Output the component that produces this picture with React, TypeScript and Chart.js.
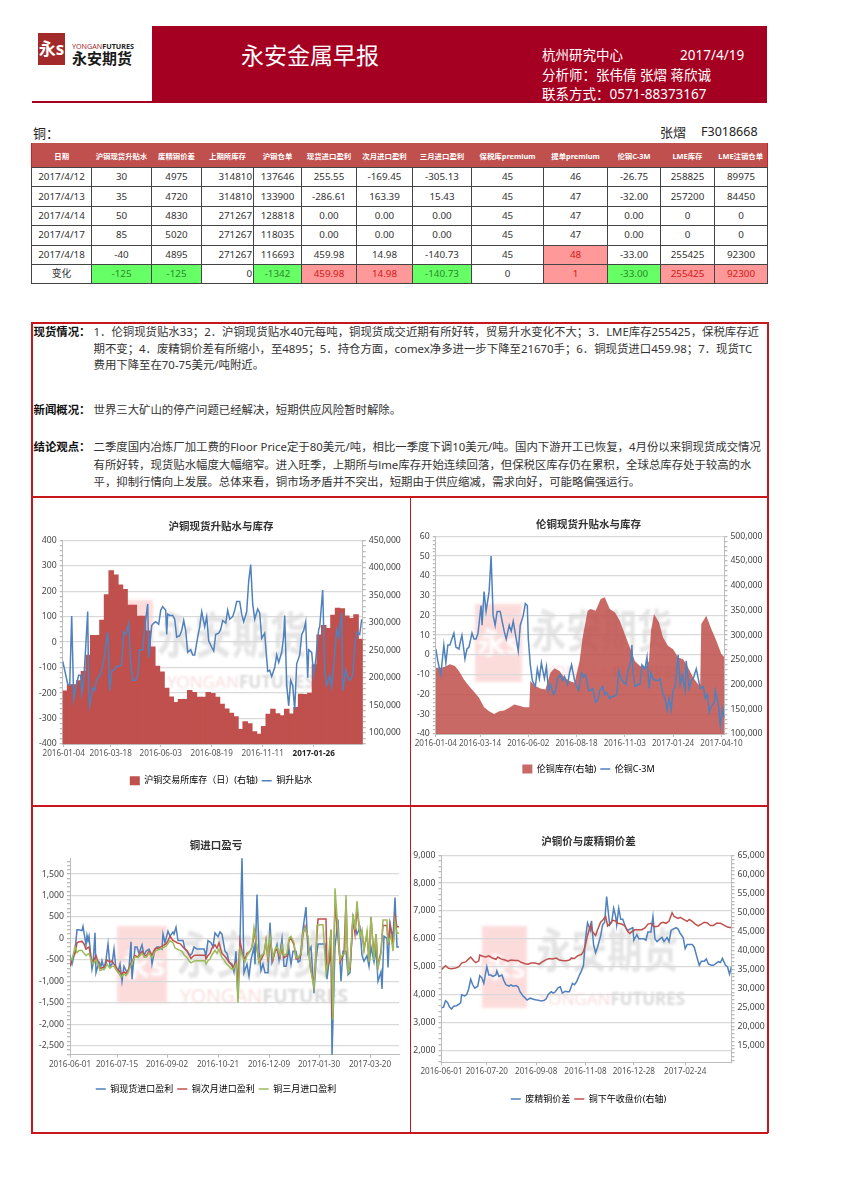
import React, { useEffect, useRef } from "react";
import { Chart, registerables } from "chart.js";
Chart.register(...registerables);

const FONT = '"Noto Sans","Noto Sans CJK SC",sans-serif';
const RED = "#C0504D", BLUE = "#4F81BD", GREEN = "#9BBB59";

// ---------- table ----------
const tableHeaders = ["日期","沪铜现货升贴水","废精铜价差","上期所库存","沪铜仓单","现货进口盈利","次月进口盈利","三月进口盈利","保税库premium","提单premium","伦铜C-3M","LME库存","LME注销仓单"];
const tableRows = [
  ["2017/4/12","30","4975","314810","137646","255.55","-169.45","-305.13","45","46","-26.75","258825","89975"],
  ["2017/4/13","35","4720","314810","133900","-286.61","163.39","15.43","45","47","-32.00","257200","84450"],
  ["2017/4/14","50","4830","271267","128818","0.00","0.00","0.00","45","47","0.00","0","0"],
  ["2017/4/17","85","5020","271267","118035","0.00","0.00","0.00","45","47","0.00","0","0"],
  ["2017/4/18","-40","4895","271267","116693","459.98","14.98","-140.73","45","48","-33.00","255425","92300"],
  ["变化","-125","-125","0","-1342","459.98","14.98","-140.73","0","1","-33.00","255425","92300"],
];
const changeTone = ["","g","g","","g","p","p","g","","p","g","p","p"];

// ---------- notes ----------
const spotLines = ["1．伦铜现货贴水33；2．沪铜现货贴水40元每吨，铜现货成交近期有所好转，贸易升水变化不大；3．LME库存255425，保税库存近","期不变；4．废精铜价差有所缩小，至4895；5．持仓方面，comex净多进一步下降至21670手；6．铜现货进口459.98；7．现货TC","费用下降至在70-75美元/吨附近。"];
const newsLines = ["世界三大矿山的停产问题已经解决，短期供应风险暂时解除。"];
const viewLines = ["二季度国内冶炼厂加工费的Floor Price定于80美元/吨，相比一季度下调10美元/吨。国内下游开工已恢复，4月份以来铜现货成交情况","有所好转，现货贴水幅度大幅缩窄。进入旺季，上期所与lme库存开始连续回落，但保税区库存仍在累积，全球总库存处于较高的水","平，抑制行情向上发展。总体来看，铜市场矛盾并不突出，短期由于供应缩减，需求向好，可能略偏强运行。"];

// ---------- chart 1 ----------
const shTickDays = [1,48,98,149,200,251];
const shTickLabels = ["2016-01-04","2016-03-18","2016-06-03","2016-08-19","2016-11-11","2017-01-26"];
const shStockWeekly = [177400,188400,188400,195700,212800,242000,278000,278000,305500,351800,395700,387800,369500,361600,333000,333000,312800,312800,286000,257300,222000,211600,182300,166500,156100,161600,161600,178000,174400,165900,165900,174400,172600,165900,153000,144500,136600,130500,107300,121300,117700,103000,98800,112800,134800,143900,136000,132300,143900,135400,147000,171300,171000,173000,225000,278700,296300,290900,314600,327400,326800,313400,309000,315900,271300];
const shBasis: [number, number][] = [[0,-75],[2,-110],[5,-165],[7,-170],[9,103],[11,-225],[14,-160],[16,-130],[18,-130],[19,-200],[21,-150],[23,-20],[25,120],[26,-200],[27,-250],[30,-180],[32,-190],[34,-145],[37,-130],[39,-110],[41,-70],[45,40],[47,-190],[49,-115],[52,-105],[54,-95],[56,-95],[59,-90],[61,40],[63,30],[66,75],[68,-80],[70,-150],[73,-150],[75,-130],[77,-30],[80,-30],[82,60],[85,150],[86,-60],[89,65],[91,75],[93,80],[96,70],[98,125],[100,140],[103,125],[104,30],[105,110],[107,105],[110,105],[112,90],[114,20],[117,25],[119,45],[121,85],[123,45],[125,-40],[128,-30],[130,-50],[132,-50],[135,20],[137,60],[139,120],[142,60],[144,100],[146,5],[149,-20],[151,-35],[153,30],[156,35],[158,50],[160,85],[163,75],[165,125],[167,90],[170,100],[172,125],[174,160],[177,160],[179,110],[181,80],[184,120],[186,240],[188,305],[190,150],[192,90],[195,130],[197,115],[199,15],[202,35],[205,-115],[207,-110],[209,-135],[212,-100],[214,-50],[216,-80],[219,-40],[221,25],[222,105],[224,-170],[226,-250],[228,-150],[230,-170],[232,-265],[234,-85],[237,-50],[239,30],[241,45],[243,80],[245,-140],[246,-30],[249,-40],[251,-130],[253,-70],[256,50],[257,60],[260,205],[262,-110],[264,-170],[267,-130],[269,-175],[271,-90],[274,50],[276,20],[279,115],[280,-190],[283,-110],[285,-135],[287,-150],[290,-130],[292,-20],[294,40],[297,30],[299,90]];

// ---------- chart 2 ----------
const lmeTickDays = [0,44,92,140,188,236,284];
const lmeTickLabels = ["2016-01-04","2016-03-14","2016-06-02","2016-08-18","2016-11-03","2017-01-24","2017-04-10"];
const lmeStock: [number, number][] = [[0,234200],[5,234200],[9,236300],[14,241000],[19,237600],[23,227500],[28,210500],[33,197000],[38,185400],[43,173200],[48,154200],[53,146100],[58,140700],[63,146100],[68,147500],[73,152900],[78,159700],[83,157000],[88,154200],[93,154200],[94,207100],[99,197000],[104,192200],[109,190200],[114,224100],[118,232900],[123,227500],[128,213900],[133,207100],[138,203700],[143,247800],[146,295300],[151,349500],[154,352900],[159,349500],[164,373200],[168,376600],[173,352900],[178,346100],[183,329200],[188,302000],[193,274900],[198,247800],[203,237600],[208,234200],[212,247800],[214,308800],[217,342700],[222,325800],[226,295300],[231,278300],[236,271500],[241,254600],[246,251200],[251,234200],[256,213900],[261,200300],[263,200300],[264,322400],[269,339300],[274,312200],[279,288500],[284,261400],[287,256000]];
const lmeSpread: [number, number][] = [[0,3],[2,-3],[4,-8],[5,-10],[8,5],[10,-4],[12,5],[14,5],[16,8],[18,11],[20,4],[23,3],[25,8],[26,10],[29,-2],[31,3],[33,4],[36,11],[38,8],[40,8],[42,11],[45,25],[46,15],[48,32],[50,22],[53,32],[55,50],[57,20],[59,15],[61,22],[64,22],[66,17],[68,12],[70,8],[73,15],[75,12],[77,17],[80,8],[82,2],[84,15],[87,20],[89,26],[91,25],[92,8],[94,-5],[96,-13],[99,-16],[101,-7],[103,-12],[105,-4],[108,-12],[110,-6],[112,-18],[114,-15],[117,-20],[119,-18],[121,-12],[124,-10],[126,-13],[128,-11],[131,-15],[133,-9],[135,-5],[138,-13],[140,-16],[142,-18],[145,-9],[147,-11],[149,-10],[152,-18],[154,-18],[156,-17],[159,-24],[161,-23],[163,-18],[166,-16],[168,-20],[170,-19],[173,-22],[175,-21],[177,-21],[180,-20],[182,-8],[184,-12],[187,-14],[189,-15],[191,-8],[194,-3],[195,5],[196,-8],[198,-16],[201,-15],[203,-15],[205,-5],[208,-7],[210,-1],[212,-17],[214,-9],[216,-12],[219,-13],[221,-13],[223,-12],[226,-20],[228,-22],[230,-28],[232,-22],[234,-28],[236,-18],[238,-16],[241,0],[243,-15],[245,-10],[248,-18],[249,-3],[252,-17],[254,-13],[256,-12],[259,-7],[261,-12],[263,-17],[266,-16],[268,-22],[270,-20],[272,-29],[274,-26],[277,-24],[278,-18],[281,-25],[283,-36],[285,-27],[287,-32]];

// ---------- chart 3 ----------
const impTickDays = [0,47,97,148,199,249,300];
const impTickLabels = ["2016-06-01","2016-07-15","2016-09-02","2016-10-21","2016-12-09","2017-01-30","2017-03-20"];
const impSpot: [number, number][] = [[0,-400],[2,-600],[5,-300],[7,200],[9,200],[12,180],[13,280],[16,-150],[17,70],[18,-50],[19,50],[22,-720],[23,-600],[25,130],[26,-800],[29,-550],[31,-650],[32,-520],[34,-700],[36,-500],[38,-130],[40,-650],[42,-600],[44,-250],[46,-720],[48,-780],[50,-600],[52,-1000],[54,-650],[57,-800],[59,-700],[61,-80],[62,-950],[65,-200],[67,-200],[69,-350],[72,-150],[74,-400],[76,-300],[79,-250],[81,-350],[82,-600],[85,-250],[87,-200],[89,-200],[92,-250],[93,100],[95,-100],[98,170],[100,50],[103,150],[104,100],[106,260],[108,-50],[111,-50],[113,-50],[115,-250],[117,-300],[120,-400],[122,-350],[124,-200],[127,-250],[129,-250],[131,-250],[134,-250],[136,-400],[138,-50],[141,-100],[143,-200],[145,130],[148,40],[150,150],[152,100],[155,-300],[157,-350],[159,-550],[162,-600],[164,-780],[166,-300],[168,-1400],[170,-50],[172,1900],[174,-800],[177,-600],[179,-880],[181,-500],[184,-200],[185,-600],[187,1020],[189,-300],[191,-750],[193,-600],[195,-800],[198,-800],[200,370],[202,-550],[205,-300],[207,-150],[209,-500],[212,0],[214,-650],[216,-650],[219,-250],[221,-600],[223,-300],[226,-300],[228,-550],[230,-520],[233,220],[236,730],[238,-350],[241,-200],[244,-1280],[246,-500],[248,-130],[253,-130],[255,-130],[257,-950],[259,-550],[261,150],[262,-2750],[265,-200],[268,440],[271,-1000],[273,-300],[276,-300],[278,-850],[280,-800],[283,500],[285,300],[287,100],[290,250],[292,-400],[294,-530],[297,-400],[299,-650],[301,-200],[304,-550],[306,-250],[308,-1000],[311,-780],[312,-1180],[314,50],[317,0],[318,-680],[320,350],[323,0],[325,950],[327,-200],[329,-200]];
const impNext: [number, number][] = [[0,-650],[2,-480],[5,-350],[7,-100],[9,-80],[12,-70],[14,-130],[16,-250],[19,-200],[21,-450],[23,-550],[26,-400],[28,-550],[30,-700],[33,-680],[35,-650],[37,-500],[40,-550],[42,-520],[44,-600],[47,-700],[49,-750],[51,-830],[54,-780],[56,-820],[58,-750],[61,-580],[63,-500],[65,-400],[68,-430],[70,-350],[72,-300],[75,-420],[77,-380],[79,-300],[82,-400],[84,-280],[86,-230],[89,-230],[91,-200],[93,-170],[96,-130],[98,-50],[100,50],[103,-50],[105,-70],[107,-100],[110,-120],[112,-170],[114,-230],[117,-280],[119,-380],[121,-470],[124,-400],[126,-390],[135,-390],[136,-480],[138,-400],[140,-350],[142,-230],[145,-150],[147,-230],[149,-100],[152,-350],[154,-400],[156,-450],[159,-550],[161,-600],[163,-680],[166,-550],[168,-1100],[170,-50],[173,-430],[175,-480],[177,-350],[180,-300],[182,-200],[185,150],[187,-250],[189,-550],[191,-500],[194,-350],[196,-50],[198,-550],[200,0],[203,-500],[205,-300],[207,-250],[210,-450],[212,-200],[214,-450],[217,-400],[219,-50],[221,0],[224,-150],[226,-480],[228,-480],[231,-380],[233,100],[235,280],[238,0],[240,-600],[244,-1100],[246,-300],[248,450],[253,450],[256,450],[257,-700],[260,-500],[261,200],[262,-1850],[265,800],[267,300],[270,-550],[272,-450],[274,-350],[276,900],[278,-750],[280,-700],[283,450],[285,100],[287,700],[290,100],[292,150],[294,-250],[297,100],[299,-500],[301,500],[304,-450],[306,100],[308,-650],[311,-300],[313,300],[317,300],[318,-150],[320,330],[323,-200],[325,500],[327,270],[329,270]];
const impThird: [number, number][] = [[0,-450],[2,-500],[5,-200],[7,-330],[9,-280],[12,-280],[14,-350],[16,-400],[19,-350],[21,-500],[23,-600],[26,-500],[28,-600],[30,-750],[33,-720],[35,-700],[37,-600],[40,-700],[42,-650],[44,-650],[47,-760],[49,-820],[51,-900],[54,-830],[56,-870],[58,-800],[61,-620],[63,-520],[65,-430],[68,-450],[70,-400],[72,-350],[75,-440],[77,-420],[79,-340],[82,-450],[84,-350],[86,-280],[89,-260],[91,-230],[93,-220],[96,-180],[98,-120],[100,-50],[103,-100],[105,-220],[107,-250],[110,-280],[112,-300],[114,-380],[117,-450],[119,-520],[121,-570],[124,-530],[126,-520],[135,-520],[136,-600],[138,-520],[140,-480],[142,-380],[145,-280],[147,-350],[149,-250],[152,-450],[154,-500],[156,-580],[159,-650],[161,-700],[163,-730],[166,-600],[168,-1500],[170,-250],[173,-450],[175,-550],[177,-400],[180,-300],[182,-200],[184,250],[187,-200],[189,-550],[191,-400],[194,-350],[196,-50],[198,-450],[200,50],[203,-450],[205,-250],[207,-200],[210,-400],[212,-150],[214,-400],[217,-350],[219,0],[221,50],[224,-100],[226,-450],[228,-450],[231,-350],[233,150],[235,250],[238,50],[240,-650],[244,-1150],[246,-350],[247,300],[250,320],[253,320],[256,-800],[258,-550],[261,200],[263,-1900],[265,1170],[268,200],[270,-500],[272,-400],[275,-350],[276,1010],[278,-800],[280,-650],[283,570],[285,200],[287,870],[290,50],[292,200],[294,-300],[297,170],[299,-550],[301,500],[304,-500],[306,100],[308,-700],[311,-350],[313,430],[317,430],[318,-100],[321,50],[323,-300],[325,400],[327,120],[329,120]];

// ---------- chart 4 ----------
const scrapTickDays = [0,45,94,143,191,242];
const scrapTickLabels = ["2016-06-01","2016-07-20","2016-09-08","2016-11-08","2016-12-28","2017-02-24"];
const scrapSpread: [number, number][] = [[0,3520],[2,3550],[4,3780],[6,3720],[8,3550],[10,3480],[12,3580],[15,3600],[17,3650],[19,3700],[20,3990],[23,3950],[25,4000],[27,4200],[29,4550],[31,4350],[33,4230],[36,4300],[38,4680],[40,4600],[42,4400],[45,5000],[47,4700],[49,4700],[51,4650],[54,4700],[55,4850],[57,4650],[60,4700],[62,4500],[64,4350],[67,4300],[69,4350],[71,4300],[74,4320],[76,4280],[78,4100],[81,3950],[83,3880],[85,3800],[88,3870],[90,3850],[92,3820],[95,3800],[97,3790],[99,3770],[102,3790],[104,3850],[106,4000],[109,4100],[111,4050],[113,4100],[116,4250],[118,4280],[120,4050],[123,4120],[125,4100],[127,4100],[130,4400],[132,4350],[134,4450],[137,4700],[139,4850],[141,5050],[143,6000],[145,6580],[148,6300],[149,6650],[151,5800],[153,5500],[155,5700],[158,6100],[160,6500],[162,6600],[164,7520],[167,6500],[169,6600],[171,7100],[173,6800],[174,6500],[176,7100],[178,6700],[180,6700],[183,6400],[185,6300],[187,6350],[190,6400],[191,5950],[194,6150],[196,6000],[198,6000],[201,6000],[203,5950],[205,6250],[208,6250],[210,6800],[212,6000],[214,5900],[217,6000],[219,6050],[221,5900],[224,6050],[226,5900],[228,6300],[230,6350],[233,6400],[235,6350],[237,6200],[240,6050],[242,5650],[244,5800],[247,5800],[249,5800],[251,5700],[254,5300],[256,5050],[258,5200],[261,5200],[263,5280],[265,5100],[268,5050],[270,5050],[272,5100],[275,5180],[277,5150],[279,5300],[282,5050],[284,5000],[286,4730],[288,5000]];
const scrapClose: [number, number][] = [[0,35000],[2,35500],[4,36000],[7,35300],[10,35200],[14,35400],[17,35700],[20,36700],[24,37000],[27,37800],[29,38300],[32,37300],[34,36800],[37,37300],[38,38800],[41,38500],[44,38300],[47,38600],[50,38100],[54,37700],[56,38300],[59,37800],[63,37500],[66,37200],[69,37500],[73,37400],[76,37400],[79,36900],[83,36500],[86,36400],[89,36700],[93,36700],[97,36400],[100,37000],[104,37600],[107,37900],[110,37800],[114,38000],[117,37500],[120,37400],[124,37300],[127,37500],[129,38000],[132,37900],[135,38600],[139,39000],[141,39800],[143,41500],[145,44000],[148,46800],[150,45000],[153,44000],[155,45500],[158,47500],[160,48000],[163,49000],[165,46500],[167,47000],[170,48000],[173,47800],[175,47200],[179,47000],[182,46500],[185,45000],[187,44500],[189,45000],[192,45500],[195,45500],[199,45500],[202,46000],[205,47000],[208,47200],[211,46300],[215,46400],[218,47300],[220,47500],[223,47200],[226,47800],[229,50000],[231,49000],[235,48500],[237,48800],[240,48300],[244,47700],[246,48200],[249,47700],[252,47000],[255,46500],[258,47000],[261,47500],[264,47300],[267,46600],[270,46600],[273,47200],[277,47200],[280,46800],[284,46200],[288,46000]];

const pts = (a: [number, number][]) => a.map(([x, y]) => ({ x, y }));
const weekly = (a: number[], daysPerWeek: number) => a.map((y, i) => ({ x: (i + 0.5) * daysPerWeek, y }));

type Box = { left: number; top: number; w: number; h: number; plotL: number; plotR: number; plotT: number; plotB: number; titleY: number; legendY: number };

function axisTicks(min: number, max: number, first: number, step: number, minorPer: number) {
  const out: any[] = [];
  const m = step / minorPer;
  const start = Math.ceil((min - first) / m);
  for (let k = start; first + k * m <= max + 1e-9; k++) out.push({ value: first + k * m, major: k % minorPer === 0 });
  return out;
}

function yAxis(min: number, max: number, first: number, step: number, minorPer: number, position: string, width: number, grid: boolean) {
  return {
    type: "linear", position, min, max,
    afterBuildTicks: (s: any) => { s.ticks = axisTicks(min, max, first, step, minorPer); },
    afterFit: (s: any) => { s.width = width; },
    border: { color: "#bdbdbd", width: 1 },
    grid: {
      drawOnChartArea: grid, lineWidth: 1.3, tickLength: 3, tickColor: "#bbb",
      color: (c: any) => (c.tick && c.tick.major ? "#d9d9d9" : "rgba(0,0,0,0)"),
    },
    ticks: {
      autoSkip: false, padding: 3, color: "#444", font: { size: 8.7, family: FONT },
      callback: (v: number, i: number, t: any[]) => (t[i].major ? v.toLocaleString("en-US") : ""),
    },
  };
}

function buildConfig(b: Box, title: string, datasets: any[], xMax: number, tickDays: number[], tickLabels: string[], scalesY: any, boldDay?: number): any {
  const legendH = 24;
  const bottom = b.top + b.h;
  const padBottom = bottom - b.legendY - 15.5;
  const axisH = bottom - b.plotB - padBottom - legendH;
  const titleH = 12.6;
  const titleTop = b.titleY - b.top - titleH / 2;
  const titleBottom = b.plotT - b.top - titleTop - titleH;
  return {
    data: { datasets },
    options: {
      animation: false, responsive: false,
      layout: { padding: { left: 0, top: 0, right: scalesY.y1 ? 0 : b.left + b.w - b.plotR, bottom: padBottom } },
      plugins: {
        tooltip: { enabled: false },
        title: { display: true, text: title, color: "#333", font: { size: 10.5, weight: "bold", family: FONT }, padding: { top: titleTop, bottom: titleBottom } },
        legend: {
          position: "bottom",
          labels: {
            usePointStyle: true, pointStyleWidth: 10, boxHeight: 9, padding: 4, color: "#555", font: { size: 9, family: FONT },
            generateLabels: (c: any) => c.data.datasets.map((d: any, i: number) => ({
              text: d.label, fillStyle: d.swatch, strokeStyle: d.swatch,
              lineWidth: d.legendStyle === "line" ? 1.5 : 0, pointStyle: d.legendStyle, datasetIndex: i,
            })),
          },
        },
      },
      scales: {
        x: {
          type: "linear", min: 0, max: xMax, offset: false,
          afterBuildTicks: (s: any) => { s.ticks = tickDays.map((value) => ({ value })); },
          afterFit: (s: any) => { s.height = axisH; },
          border: { color: "#bdbdbd", width: 1 },
          grid: { drawOnChartArea: false, offset: false, tickLength: 3, tickColor: "#bbb" },
          ticks: {
            autoSkip: false, maxRotation: 0, padding: 2,
            color: (c: any) => (c.tick && c.tick.value === boldDay ? "#222" : "#555"),
            font: (c: any) => ({ size: 8.1, family: FONT, weight: c.tick && c.tick.value === boldDay ? "bold" : "normal" }),
            callback: (v: number) => tickLabels[tickDays.indexOf(v)] ?? "",
          },
        },
        ...scalesY,
      },
    },
  };
}

const lineDs = (label: string, color: string, data: any[], yAxisID: string, order: number) => ({
  type: "line", label, data, yAxisID, order, borderColor: color, backgroundColor: color, borderWidth: 1.5,
  pointRadius: 0, tension: 0, swatch: color, legendStyle: "line",
});

const box1: Box = { left: 33, top: 498, w: 376, h: 306, plotL: 62.7, plotR: 362.7, plotT: 540.3, plotB: 743, titleY: 527, legendY: 779.7 };
const box2: Box = { left: 411, top: 498, w: 355, h: 306, plotL: 435.8, plotR: 724.4, plotT: 536.3, plotB: 733, titleY: 525, legendY: 768 };
const box3: Box = { left: 33, top: 807, w: 376, h: 325, plotL: 70, plotR: 399, plotT: 858.3, plotB: 1053.7, titleY: 846, legendY: 1088 };
const box4: Box = { left: 411, top: 807, w: 355, h: 325, plotL: 441.5, plotR: 731.5, plotT: 855.3, plotB: 1061.3, titleY: 841.7, legendY: 1098 };

const leftW = (b: Box) => b.plotL - b.left;
const rightW = (b: Box) => b.left + b.w - b.plotR;

const configs = [
  { box: box1, make: () => buildConfig(box1, "沪铜现货升贴水与库存", [
      { type: "bar", label: "沪铜交易所库存（日）(右轴)", data: weekly(shStockWeekly, 4.62), yAxisID: "y1", order: 2, backgroundColor: RED, barPercentage: 1.2, categoryPercentage: 1, swatch: RED, legendStyle: "rect" },
      lineDs("铜升贴水", BLUE, pts(shBasis), "y", 1),
    ], 300, shTickDays, shTickLabels, {
      y: yAxis(-400, 400, -400, 100, 5, "left", leftW(box1), true),
      y1: yAxis(80000, 450000, 100000, 50000, 5, "right", rightW(box1), false),
    }, 251) },
  { box: box2, make: () => buildConfig(box2, "伦铜现货升贴水与库存", [
      { type: "line", label: "伦铜库存(右轴)", data: pts(lmeStock), yAxisID: "y1", order: 2, borderWidth: 0, backgroundColor: "rgba(192,80,77,0.86)", fill: "start", pointRadius: 0, tension: 0, swatch: "#C96A67", legendStyle: "rect" },
      lineDs("伦铜C-3M", BLUE, pts(lmeSpread), "y", 1),
    ], 287, lmeTickDays, lmeTickLabels, {
      y: yAxis(-40, 60, -40, 10, 5, "left", leftW(box2), true),
      y1: yAxis(100000, 500000, 100000, 50000, 5, "right", rightW(box2), false),
    }) },
  { box: box3, make: () => buildConfig(box3, "铜进口盈亏", [
      lineDs("铜现货进口盈利", BLUE, pts(impSpot), "y", 3),
      lineDs("铜次月进口盈利", RED, pts(impNext), "y", 2),
      lineDs("铜三月进口盈利", GREEN, pts(impThird), "y", 1),
    ], 329, impTickDays, impTickLabels, {
      y: yAxis(-2711, 1867, -2500, 500, 5, "left", leftW(box3), true),
    }) },
  { box: box4, make: () => buildConfig(box4, "沪铜价与废精铜价差", [
      lineDs("废精铜价差", BLUE, pts(scrapSpread), "y", 2),
      lineDs("铜下午收盘价(右轴)", RED, pts(scrapClose), "y1", 1),
    ], 288, scrapTickDays, scrapTickLabels, {
      y: yAxis(1567, 9000, 2000, 1000, 5, "left", leftW(box4), true),
      y1: yAxis(10480, 65170, 15000, 5000, 5, "right", rightW(box4), false),
    }) },
];

const watermarks = [
  { logo: [105, 600, 48, 78], cn: [157, 610, 150], en: [167, 672, 140] },
  { logo: [475, 604, 47, 78], cn: [531, 607, 141], en: [545, 662, 130] },
  { logo: [117, 926, 50, 77], cn: [177, 929, 153], en: [180, 986, 160] },
  { logo: [482, 926, 45, 82], cn: [536, 926, 142], en: [539, 989, 139] },
];

const abs = (left: number, top: number, extra: any = {}): any => ({ position: "absolute", left, top, whiteSpace: "nowrap", ...extra });

function ChartCanvas({ box, make }: any) {
  const ref = useRef<HTMLCanvasElement>(null);
  useEffect(() => {
    const chart = new Chart(ref.current as any, make());
    return () => chart.destroy();
  }, []);
  return <canvas ref={ref} width={box.w} height={box.h} style={{ position: "absolute", left: box.left, top: box.top, width: box.w, height: box.h }} />;
}

function Watermark({ logo, cn, en }: any) {
  const [lx, ly, lw, lh] = logo;
  return (
    <>
      <div style={abs(lx, ly, { width: lw, height: lh, background: "#fbc4c4", opacity: 0.6, filter: "blur(1.5px)", color: "#fff", fontFamily: FONT, fontSize: lw * 0.62, lineHeight: `${lh}px`, textAlign: "center", fontWeight: 700 })}>永s</div>
      <div style={abs(cn[0], cn[1], { width: cn[2], fontFamily: FONT, fontWeight: 700, fontSize: cn[2] / 4, lineHeight: `${cn[2] / 3}px`, color: "rgba(170,170,170,0.32)", filter: "blur(1.2px)", transform: "scaleY(1.3)" })}>永安期货</div>
      <div style={abs(en[0], en[1], { width: en[2], fontFamily: FONT, fontSize: en[2] / 8.2, lineHeight: "20px", filter: "blur(1px)" })}>
        <span style={{ color: "rgba(240,170,170,0.4)" }}>YONGAN</span><span style={{ color: "rgba(150,150,150,0.35)", fontWeight: 700 }}>FUTURES</span>
      </div>
    </>
  );
}

const colEdges = [31,91,151,201,253,301,356,412,471,543,607,660,714,767];

function App() {
  const textLine = (t: string, left: number, top: number) => (
    <div key={t} style={abs(left, top - 8, { fontSize: 11.4, lineHeight: "16px", color: "#333" })}>{t}</div>
  );
  const label = (t: string, top: number) => (
    <div key={t} style={abs(33.5, top - 8, { fontSize: 11.4, lineHeight: "16px", fontWeight: 700, color: "#111" })}>{t}</div>
  );
  const rule: any = { position: "absolute", background: "#c8161d" };
  return (
    <div style={{ position: "absolute", left: 0, top: 0, width: 842, height: 1190, background: "#fff", fontFamily: FONT, overflow: "hidden", filter: "blur(0.45px)" }}>
      {/* header */}
      <div style={{ position: "absolute", left: 152, top: 26, width: 615, height: 76, background: "#A50021" }} />
      <div style={{ position: "absolute", left: 32, top: 101, width: 735, height: 2, background: "#A50021" }} />
      <div style={abs(38, 33, { width: 27, height: 32, background: "#a32a2a", color: "#fff", fontSize: 17, lineHeight: "32px", textAlign: "center", fontWeight: 700 })}>永s</div>
      <div style={abs(72, 40, { fontSize: 7.2, lineHeight: "12px", fontWeight: 700, color: "#222" })}><span style={{ color: "#a32a2a", fontWeight: 400 }}>YONGAN</span>FUTURES</div>
      <div style={abs(72, 49, { fontSize: 15, lineHeight: "18px", fontWeight: 700, color: "#1a1a1a" })}>永安期货</div>
      <div style={abs(241, 40, { fontSize: 23, lineHeight: "30px", color: "#fff" })}>永安金属早报</div>
      <div style={abs(542, 46, { fontSize: 13.5, lineHeight: "18px", color: "#fff" })}>杭州研究中心</div>
      <div style={abs(680, 46, { fontSize: 13.5, lineHeight: "18px", color: "#fff" })}>2017/4/19</div>
      <div style={abs(542, 66, { fontSize: 13.5, lineHeight: "18px", color: "#fff" })}>分析师：张伟倩 张熠 蒋欣诚</div>
      <div style={abs(542, 85, { fontSize: 13.5, lineHeight: "18px", color: "#fff" })}>联系方式：0571-88373167</div>
      <div style={abs(33, 124, { fontSize: 13, lineHeight: "18px", color: "#222" })}>铜：</div>
      <div style={abs(660, 123, { fontSize: 13, lineHeight: "18px", color: "#222" })}>张熠</div>
      <div style={abs(701, 123, { fontSize: 12.5, lineHeight: "18px", color: "#222" })}>F3018668</div>

      {/* table */}
      <table style={{ position: "absolute", left: 31, top: 143, width: 736, borderCollapse: "collapse", tableLayout: "fixed", borderLeft: "1px solid #d02020", borderRight: "1px solid #d02020" }}>
        <colgroup>{colEdges.slice(1).map((e, i) => <col key={i} style={{ width: e - colEdges[i] }} />)}</colgroup>
        <thead><tr style={{ height: 24.5, background: RED }}>
          {tableHeaders.map((h) => <th key={h} style={{ padding: 0, color: "#fff", fontSize: 7.4, fontWeight: 700, whiteSpace: "nowrap", overflow: "hidden" }}>{h}</th>)}
        </tr></thead>
        <tbody>
          {tableRows.map((r, ri) => (
            <tr key={ri} style={{ height: 19.4 }}>
              {r.map((c, ci) => {
                const isChange = ri === 5;
                const tone = isChange ? changeTone[ci] : ri === 4 && ci === 9 ? "p" : "";
                return (
                  <td key={ci} style={{
                    padding: ci === 3 ? "0 1px 0 0" : 0, border: "1px solid #444", fontSize: 9.8, lineHeight: "12px",
                    textAlign: ci === 3 ? "right" : "center",
                    background: tone === "g" ? "#66FF66" : tone === "p" ? "#FF9999" : "#fff",
                    color: tone === "g" ? "#2a8a2a" : tone === "p" ? "#d01818" : "#333",
                  }}>{c}</td>
                );
              })}
            </tr>
          ))}
        </tbody>
      </table>

      {/* notes */}
      {label("现货情况：", 332)}{spotLines.map((t, i) => textLine(t, 93.5, [332, 349, 365][i]))}
      {label("新闻概况：", 410)}{newsLines.map((t) => textLine(t, 93.5, 410))}
      {label("结论观点：", 447)}{viewLines.map((t, i) => textLine(t, 93.5, [447, 464.5, 482][i]))}

      {/* watermarks, charts */}
      {watermarks.map((w, i) => <Watermark key={i} {...w} />)}
      {configs.map((c, i) => <ChartCanvas key={i} box={c.box} make={c.make} />)}

      {/* frames */}
      <div style={{ ...rule, left: 31, top: 322, width: 736, height: 1.5 }} />
      <div style={{ ...rule, left: 31, top: 496, width: 737, height: 1.5 }} />
      <div style={{ ...rule, left: 31, top: 805, width: 737, height: 1.5 }} />
      <div style={{ ...rule, left: 31, top: 1132, width: 737, height: 1.5 }} />
      <div style={{ ...rule, left: 31, top: 322, width: 1.5, height: 811 }} />
      <div style={{ ...rule, left: 767, top: 322, width: 1.5, height: 811 }} />
      <div style={{ ...rule, left: 409.5, top: 496, width: 1.5, height: 637 }} />
    </div>
  );
}

export default App;
